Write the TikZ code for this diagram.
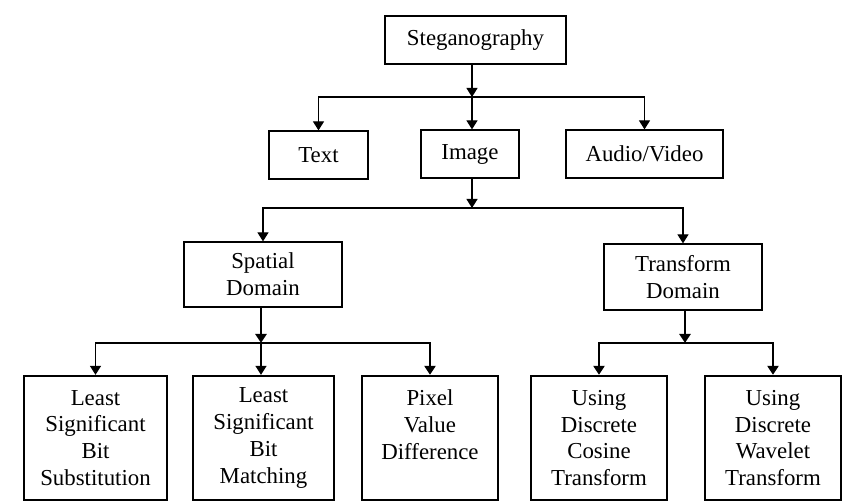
\documentclass[tikz,border=0pt]{standalone}
\usepackage{fontspec}
\setmainfont{Liberation Serif}
\usetikzlibrary{positioning,arrows.meta}

\begin{document}
\begin{tikzpicture}[
  font=\fontsize{13}{15.3}\selectfont,
  box/.style  = {rectangle, draw=black, line width=0.7pt, align=center,
                 inner sep=2pt, minimum height=9.6mm},
  leaf/.style = {box, line width=1.3pt, minimum height=24.8mm, minimum width=27.2mm},
  fl/.style   = {-{Triangle[length=1.8mm,width=2.2mm]}, line width=0.7pt},
  thk/.style  = {fl, line width=1.3pt}
]
\useasboundingbox (0,0) rectangle (17.16,10.04);

% --- Wurzel ------------------------------------------------------------------
\node[box, minimum width=36.2mm] (steg) at (9.51,9.24) {Steganography};

% --- Ebene 1 -----------------------------------------------------------------
\node[box, minimum width=19.8mm] (text)  at (6.37,6.94) {Text};
\node[box, minimum width=19.6mm] (image) at (9.40,6.96) {Image};
\node[box, minimum width=31.4mm] (audio) at (12.89,6.96) {Audio/Video};

% --- Ebene 2 -----------------------------------------------------------------
\node[box, minimum width=31.6mm, minimum height=13mm]   (spat)  at (5.26,4.55) {Spatial\\ Domain};
\node[box, minimum width=31.6mm, minimum height=13.2mm] (trans) at (13.66,4.50) {Transform\\ Domain};

% --- Blaetter ----------------------------------------------------------------
\node[leaf, minimum width=28.6mm] (lsbs) at (1.91,1.28) {Least\\ Significant\\ Bit\\ Substitution};
\node[leaf, minimum width=28.2mm] (lsbm) at (5.27,1.28) {Least\\ Significant\\ Bit\\ Matching};
\node[leaf] (pvd) at (8.60,1.28)  {Pixel\\ Value\\ Difference\\ \mbox{}};
\node[leaf] (dct) at (11.98,1.28) {Using\\ Discrete\\ Cosine\\ Transform};
\node[leaf] (dwt) at (15.46,1.28) {Using\\ Discrete\\ Wavelet\\ Transform};

% --- Verzweigungspunkte ------------------------------------------------------
\coordinate (j1) at (9.44,8.10);
\coordinate (j2) at (9.44,5.88);
\coordinate (j3) at (5.22,3.18);
\coordinate (j4) at (13.70,3.18);

% --- Verbindungen --------------------------------------------------------------
\draw[fl] (steg.south -| j1) -- (j1);
\draw[fl] (j1) -| (text.north);
\draw[fl] (j1) -- (j1 |- image.north);
\draw[fl] (j1) -| (audio.north);

\draw[fl] (image.south -| j2) -- (j2);
\draw[fl] (j2) -| (spat.north);
\draw[fl] (j2) -| (trans.north);

\draw[thk] (spat.south -| j3) -- (j3);
\draw[fl]  (j3) -| (lsbs.north);
\draw[fl]  (j3) -- (j3 |- lsbm.north);
\draw[thk] (j3) -| (pvd.north);

\draw[thk] (trans.south -| j4) -- (j4);
\draw[thk] (j4) -| (dct.north);
\draw[thk] (j4) -| (dwt.north);

\end{tikzpicture}
\end{document}
